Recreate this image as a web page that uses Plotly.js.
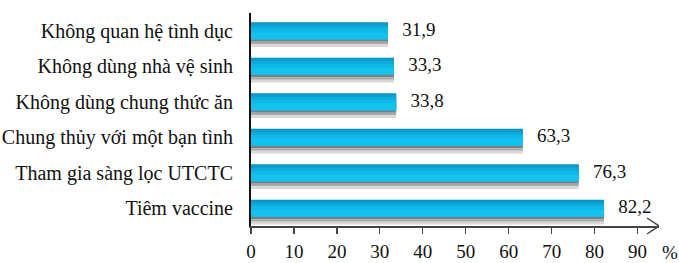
<!DOCTYPE html>
<html>
<head>
<meta charset="utf-8">
<script src="https://cdn.plot.ly/plotly-3.0.1.min.js"></script>
<style>html,body{margin:0;padding:0;background:#fff;}#chart{width:679px;height:263px;}</style>
</head>
<body>
<div id="chart"></div>
<script>
// Data (top to bottom)
const categories = [
  "Không quan hệ tình dục",
  "Không dùng nhà vệ sinh",
  "Không dùng chung thức ăn",
  "Chung thủy với một bạn tình",
  "Tham gia sàng lọc UTCTC",
  "Tiêm vaccine"
];
const values = [31.9, 33.3, 33.8, 63.3, 76.3, 82.2];
const tickValues = [0, 10, 20, 30, 40, 50, 60, 70, 80, 90];
const unitLabel = "%";

const labels = values.map(v => v.toFixed(1).replace('.', ','));
const FONT = 'Liberation Serif';

// visual strips (style only): [offset, width, color]
const barStrips = [
  [-0.24, 0.48, '#0a8fc0'],
  [-0.21, 0.45, '#0b9dce'],
  [-0.14, 0.38, '#0dacdc'],
  [-0.06, 0.30, '#10b8e6'],
  [0.04, 0.20, '#13c2ee']
];
const shadowStrips = [
  [0.24, 0.07, '#7e7e7e'],
  [0.31, 0.07, '#a8a8a8'],
  [0.38, 0.08, '#d8d8d8']
];

const traces = [];
shadowStrips.concat(barStrips).forEach(s => {
  traces.push({
    type: 'bar', orientation: 'h',
    x: values, y: categories,
    offset: s[0], width: s[1],
    marker: {color: s[2], line: {width: 0}},
    hoverinfo: 'skip', showlegend: false
  });
});
traces.push({
  type: 'scatter', mode: 'text',
  x: values, y: categories,
  text: labels.map(t => '   ' + t),
  textposition: 'middle right',
  textfont: {family: FONT, size: 19, color: '#111'},
  cliponaxis: false, hoverinfo: 'skip', showlegend: false
});

const layout = {
  width: 679, height: 263,
  margin: {l: 251, r: 20, t: 13, b: 37},
  paper_bgcolor: '#fff', plot_bgcolor: '#fff',
  barmode: 'overlay',
  showlegend: false,
  font: {family: FONT},
  xaxis: {
    range: [0, 95],
    tickvals: tickValues,
    ticktext: tickValues.map(String),
    ticks: 'outside', ticklen: 6, tickwidth: 1.3, tickcolor: '#444',
    showline: true, linecolor: '#444', linewidth: 1.5,
    showgrid: false, zeroline: false,
    tickfont: {family: FONT, size: 19, color: '#111'},
    ticklabelstandoff: 2,
    fixedrange: true
  },
  yaxis: {
    type: 'category',
    categoryorder: 'array', categoryarray: categories,
    autorange: 'reversed',
    range: [5.5, -0.5],
    showline: true, linecolor: '#111', linewidth: 2,
    ticks: '', showgrid: false, zeroline: false,
    tickfont: {family: FONT, size: 20, color: '#111'},
    ticklabelstandoff: 12,
    fixedrange: true
  },
  shapes: [{
    type: 'path', xref: 'x', yref: 'paper',
    xsizemode: 'pixel', ysizemode: 'pixel',
    xanchor: 95, yanchor: 0,
    path: 'M -12 8 L 0 0 L -12 -8',
    line: {color: '#444', width: 1.5}
  }],
  annotations: [{
    xref: 'x', yref: 'paper', x: 95, y: 0,
    text: unitLabel, showarrow: false,
    xanchor: 'left', yanchor: 'middle', xshift: 1, yshift: -26,
    font: {family: FONT, size: 19, color: '#111'}
  }]
};

Plotly.newPlot('chart', traces, layout, {displayModeBar: false, staticPlot: true});
</script>
</body>
</html>
